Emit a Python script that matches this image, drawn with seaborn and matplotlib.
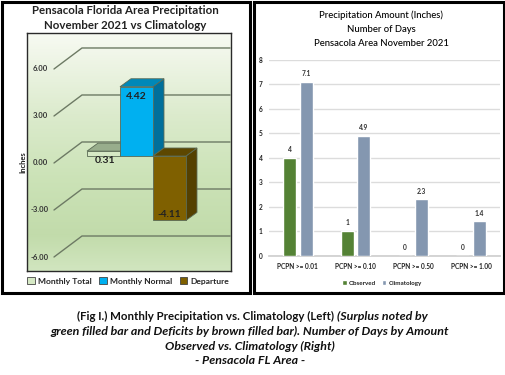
import matplotlib
matplotlib.use('Agg')
import matplotlib.pyplot as plt
import numpy as np
import pandas as pd
import seaborn as sns
from matplotlib.patches import Patch, Polygon, Rectangle

W, H = 505, 375

left_names = ['Monthly Total', 'Monthly Normal', 'Departure']
left_values = [0.31, 4.42, -4.11]
left_colors = ['#d6e9c5', '#00b0f0', '#7f6000']
left_sides = ['#b9cca8', '#006f9b', '#544000']
left_tops = ['#98ad8c', '#0088b8', '#5d4700']
left_ticks = [6, 3, 0, -3, -6]

right_cats = ['PCPN >= 0.01', 'PCPN >= 0.10', 'PCPN >= 0.50', 'PCPN >= 1.00']
observed = [4, 1, 0, 0]
climatology = [7.1, 4.9, 2.3, 1.4]

sns.set_theme(style='white')
plt.rcParams['font.family'] = ['Lato', 'DejaVu Sans']
TXT = '#222222'


def px_axes(fig, x0, y0, x1, y1):
    # pixel box with y counted from the top of the picture
    return fig.add_axes([x0 / W, 1 - y1 / H, (x1 - x0) / W, (y1 - y0) / H])


def fx(x):
    return x / W


def fy(y):
    return 1 - y / H


fig = plt.figure(figsize=(W / 100, H / 100), dpi=100, facecolor='white')

# left chart, 33 px per category and 15.67 px per inch
ax = px_axes(fig, 27, 33, 231, 271)
df = pd.DataFrame({'name': left_names, 'value': left_values})
sns.barplot(data=df, x='name', y='value', hue='name', palette=left_colors,
            dodge=False, width=1, saturation=1, legend=False, ax=ax)
xlim = (-2.318, 3.864)
ylim = (-7.34, 7.85)
ax.set_xlim(xlim)
ax.set_ylim(ylim)
ax.set_xticks([])
ax.set_yticks([])
ax.set_xlabel('')
ax.set_ylabel('')

grad = np.array([0.0, 0.35, 0.6, 0.85, 1.0])
cols = np.array([[0.97, 0.98, 0.95], [0.86, 0.92, 0.80], [0.80, 0.89, 0.72],
                 [0.76, 0.86, 0.67], [0.82, 0.90, 0.75]])
t = np.linspace(0, 1, 200)
img = np.stack([np.interp(t, grad, cols[:, i]) for i in range(3)], axis=1)[:, None, :]
ax.imshow(img, extent=(*xlim, ylim[0], ylim[1]), aspect='auto', origin='upper', zorder=0)
ax.set_xlim(xlim)
ax.set_ylim(ylim)

gx_front, gx_back = (54 - 103.5) / 33, (82 - 103.5) / 33
off_front, off_back = -7 / 15.67, 14 / 15.67
for v in left_ticks:
    ax.plot([gx_front, gx_back, xlim[1] - 0.03], [v + off_front, v + off_back, v + off_back],
            color='#6d7a64', lw=1.0, zorder=1, solid_joinstyle='miter')
    ax.text((40 - 103.5) / 33, v + off_front, f'{v:.2f}', ha='center', va='center',
            fontsize=5.5, fontweight='bold', color='#333333', zorder=2)

dx, dy = 11 / 33, 8 / 15.67
bars = [p for p in ax.patches if isinstance(p, Rectangle) and p.get_width() > 0]
bars = sorted(bars, key=lambda p: p.get_x())
for i, b in enumerate(bars):
    x0, x1 = b.get_x(), b.get_x() + b.get_width()
    top = max(b.get_y(), b.get_y() + b.get_height())
    bot = min(b.get_y(), b.get_y() + b.get_height())
    z = 3 + i
    ax.add_patch(Polygon([(x1, bot), (x1 + dx, bot + dy), (x1 + dx, top + dy), (x1, top)],
                         facecolor=left_sides[i], edgecolor='#5a6a55', lw=0.6, zorder=z))
    ax.add_patch(Polygon([(x0, top), (x1, top), (x1 + dx, top + dy), (x0 + dx, top + dy)],
                         facecolor=left_tops[i], edgecolor='#5a6a55', lw=0.6, zorder=z))
    b.set_zorder(z + 0.5)
    b.set_edgecolor('#5a6a55')
    b.set_linewidth(0.6)

ax.text(1, left_values[1] - 0.6, '4.42', ha='center', va='center', fontsize=7.5,
        fontweight='bold', color=TXT, zorder=9)
ax.text(0.06, -0.28, '0.31', ha='center', va='center', fontsize=7.5,
        fontweight='bold', color=TXT, zorder=9)
ax.text(2, left_values[2] + 0.4, '-4.11', ha='center', va='center', fontsize=7.2,
        fontweight='bold', color=TXT, zorder=9)

for s in ax.spines.values():
    s.set_visible(True)
    s.set_color('#2a2a2a')
    s.set_linewidth(1.0)

fig.text(fx(23), fy(162), 'Inches', rotation=90, ha='center', va='center',
         fontsize=5.5, fontweight='bold', color=TXT)
fig.text(fx(125), fy(10), 'Pensacola Florida Area Precipitation', ha='center', va='center',
         fontsize=8.3, fontweight='bold', color=TXT)
fig.text(fx(125), fy(25.5), 'November 2021 vs Climatology', ha='center', va='center',
         fontsize=8.3, fontweight='bold', color=TXT)
handles = [Patch(facecolor=c, edgecolor='#444444', lw=0.6) for c in left_colors]
fig.legend(handles, left_names, loc='center', bbox_to_anchor=(fx(128), fy(281)), ncol=3,
           frameon=False, handlelength=0.9, handleheight=0.9,
           handletextpad=0.35, columnspacing=0.9, borderpad=0,
           prop={'weight': 'bold', 'size': 6.1})

# right chart
ax2 = px_axes(fig, 269, 60, 500, 255.7)
long = pd.DataFrame({
    'cat': right_cats * 2,
    'kind': ['Observed'] * 4 + ['Climatology'] * 4,
    'days': observed + climatology,
})
sns.barplot(data=long, x='cat', y='days', hue='kind', palette=['#548235', '#8497b0'],
            width=0.572, gap=0.21, saturation=1, legend=False, ax=ax2, zorder=3)
ax2.set_xlim(-0.5, 3.5)
ax2.set_ylim(0, 8)
ax2.set_yticks(range(0, 9))
ax2.set_xlabel('')
ax2.set_ylabel('')
ax2.grid(axis='y', color='#dcdcdc', lw=1)
ax2.set_axisbelow(True)
sns.despine(ax=ax2, left=True, bottom=False)
ax2.spines['bottom'].set_color('#cfcfcf')
ax2.tick_params(axis='both', length=0, labelsize=4.7, colors=TXT)
ax2.tick_params(axis='x', pad=5.5)
ax2.tick_params(axis='y', pad=4.5)
for lab in ax2.get_xticklabels() + ax2.get_yticklabels():
    lab.set_fontweight('bold')
for c in ax2.containers:
    ax2.bar_label(c, fmt='%g', padding=3.5, fontsize=4.8, fontweight='bold', color='#333333')

for y, line in zip([15, 29, 44], ['Precipitation Amount (Inches)', 'Number of Days',
                                  'Pensacola Area November 2021']):
    fig.text(fx(381), fy(y), line, ha='center', va='center', fontsize=6.8, fontweight='medium', color='black')
handles2 = [Patch(facecolor='#548235'), Patch(facecolor='#8497b0')]
fig.legend(handles2, ['Observed', 'Climatology'], loc='center', bbox_to_anchor=(fx(382), fy(283)),
           ncol=2, frameon=False, handlelength=0.75, handleheight=0.9, handletextpad=0.3,
           columnspacing=0.9, borderpad=0, labelcolor=TXT,
           prop={'weight': 'bold', 'size': 4.5})

# panel frames
for x0, y0, x1, y1 in [(1.5, 1.5, 249.5, 293), (253.5, 1.5, 503.5, 293)]:
    fig.add_artist(Rectangle((fx(x0), fy(y1)), (x1 - x0) / W, (y1 - y0) / H, fill=False,
                             edgecolor='black', lw=2.2, transform=fig.transFigure))

# caption
cap = dict(fontweight='bold', color='#111111', va='center')
fig.text(fx(334), fy(316), '(Fig I.) Monthly Precipitation vs. Climatology (Left)', ha='right', fontsize=8.3, **cap)
fig.text(fx(337), fy(316), '(Surplus noted by', ha='left', style='italic', fontsize=8.9, **cap)
fig.text(fx(250), fy(331), 'green filled bar and Deficits by brown filled bar). Number of Days by Amount',
         ha='center', style='italic', fontsize=8.9, **cap)
fig.text(fx(250), fy(346), 'Observed vs. Climatology (Right)', ha='center', style='italic', fontsize=8.9, **cap)
fig.text(fx(250), fy(361), '- Pensacola FL Area -', ha='center', style='italic', fontsize=8.9, **cap)

fig.savefig('out.png', dpi=100)
